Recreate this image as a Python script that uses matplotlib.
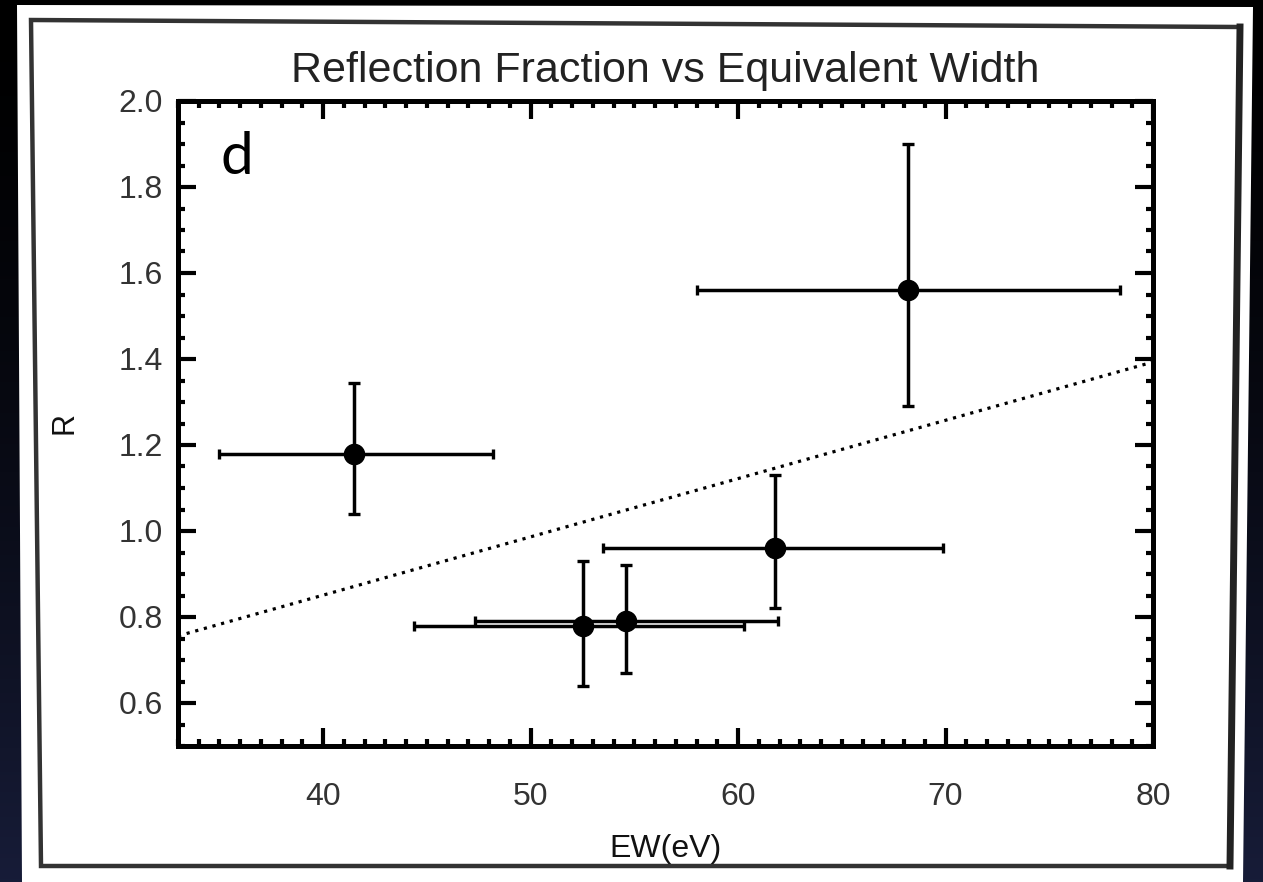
import numpy as np
import matplotlib
matplotlib.use("Agg")
import matplotlib.pyplot as plt
from matplotlib.patches import Polygon
from matplotlib.ticker import MultipleLocator

# ---- data ----
ew = [41.5, 68.2, 61.8, 52.5, 54.6]
ew_lo = [35.0, 58.0, 53.5, 44.4, 47.3]
ew_hi = [48.2, 78.4, 69.9, 60.3, 61.9]
r_val = [1.18, 1.56, 0.96, 0.78, 0.79]
r_lo = [1.04, 1.29, 0.82, 0.64, 0.67]
r_hi = [1.345, 1.90, 1.13, 0.93, 0.92]
fit_x = [33.0, 80.0]
fit_y = [0.756, 1.393]
x_ticks = [40, 50, 60, 70, 80]
y_ticks = [0.6, 0.8, 1.0, 1.2, 1.4, 1.6, 1.8, 2.0]

W, H = 1263, 882
fig = plt.figure(figsize=(W / 100, H / 100), dpi=100)

def fx(px):
    return px / W

def fy(py):
    return 1 - py / H

# background gradient
bg = fig.add_axes([0, 0, 1, 1], zorder=-10)
grad = np.linspace(0, 1, 256)[:, None]
top = np.array([0.0, 0.0, 0.0])
bot = np.array([0.09, 0.11, 0.22])
img = top[None, None, :] * (1 - grad[:, :, None] ** 1.5) + bot[None, None, :] * (grad[:, :, None] ** 1.5)
bg.imshow(img, aspect="auto", extent=[0, 1, 0, 1], origin="upper")
bg.set_xlim(0, 1)
bg.set_ylim(0, 1)
bg.axis("off")

# white panel
outer = [(17, 5), (1253, 7), (1243, 882), (22, 882)]
bg.add_patch(Polygon([(fx(x), fy(y)) for x, y in outer], closed=True,
                     facecolor="white", edgecolor="none", zorder=1))
# border frame
inner = [(31, 20), (1240, 27), (1230, 866), (41, 866)]
bg.add_patch(Polygon([(fx(x), fy(y)) for x, y in inner], closed=True,
                     facecolor="white", edgecolor="#333333", linewidth=3.2, zorder=2))
# thicker right edge
bg.plot([fx(1240), fx(1230)], [fy(27), fy(866)], color="#222222", lw=5, zorder=3)

# ---- main axes ----
ax = fig.add_axes([fx(178), fy(746), fx(1153) - fx(178), fy(101) - fy(746)])
ax.set_facecolor("white")

xerr = [np.array(ew) - np.array(ew_lo), np.array(ew_hi) - np.array(ew)]
yerr = [np.array(r_val) - np.array(r_lo), np.array(r_hi) - np.array(r_val)]

ax.errorbar(ew, r_val, xerr=[xerr[0], xerr[1]], yerr=None, fmt="none",
            ecolor="black", elinewidth=2.5, capsize=3.8, capthick=2.4, zorder=3)
ax.errorbar(ew, r_val, xerr=None, yerr=[yerr[0], yerr[1]], fmt="none",
            ecolor="black", elinewidth=2.5, capsize=4.5, capthick=2.4, zorder=3)
ax.plot(ew, r_val, "o", color="black", markersize=14.5, zorder=4)

ax.plot(fit_x, fit_y, color="black", lw=2.3, linestyle=(0, (1, 1.8)), zorder=2)

ax.set_xlim(33, 80)
ax.set_ylim(0.5, 2.0)
ax.set_xticks(x_ticks)
ax.set_yticks(y_ticks)
ax.set_xticklabels([str(v) for v in x_ticks])
ax.set_yticklabels([f"{v:.1f}" for v in y_ticks])
ax.xaxis.set_minor_locator(MultipleLocator(1))
ax.yaxis.set_minor_locator(MultipleLocator(0.05))

for s in ax.spines.values():
    s.set_linewidth(3.6)
    s.set_color("black")

ax.tick_params(which="both", direction="in", top=True, right=True, color="black")
ax.tick_params(which="major", length=13, width=3)
ax.tick_params(which="minor", length=5, width=3)
ax.tick_params(axis="x", which="major", pad=26, labelsize=23, labelcolor="#333333")
ax.tick_params(axis="y", which="major", pad=11, labelsize=23, labelcolor="#333333")
for lab in ax.get_xticklabels() + ax.get_yticklabels():
    lab.set_family("Liberation Sans")

ax.set_title("Reflection Fraction vs Equivalent Width", family="Liberation Sans",
             fontsize=31, color="#222222", pad=14)
ax.set_xlabel("EW(eV)", family="Liberation Sans", fontsize=23, color="#111111", labelpad=16)
ax.set_ylabel("R", family="Liberation Sans", fontsize=22, color="#111111", labelpad=28)

ax.text(0.06, 0.913, "d", transform=ax.transAxes, family="Lato", fontsize=42,
        ha="center", va="center", color="black", fontweight="normal")

fig.savefig("out.png", dpi=100)
